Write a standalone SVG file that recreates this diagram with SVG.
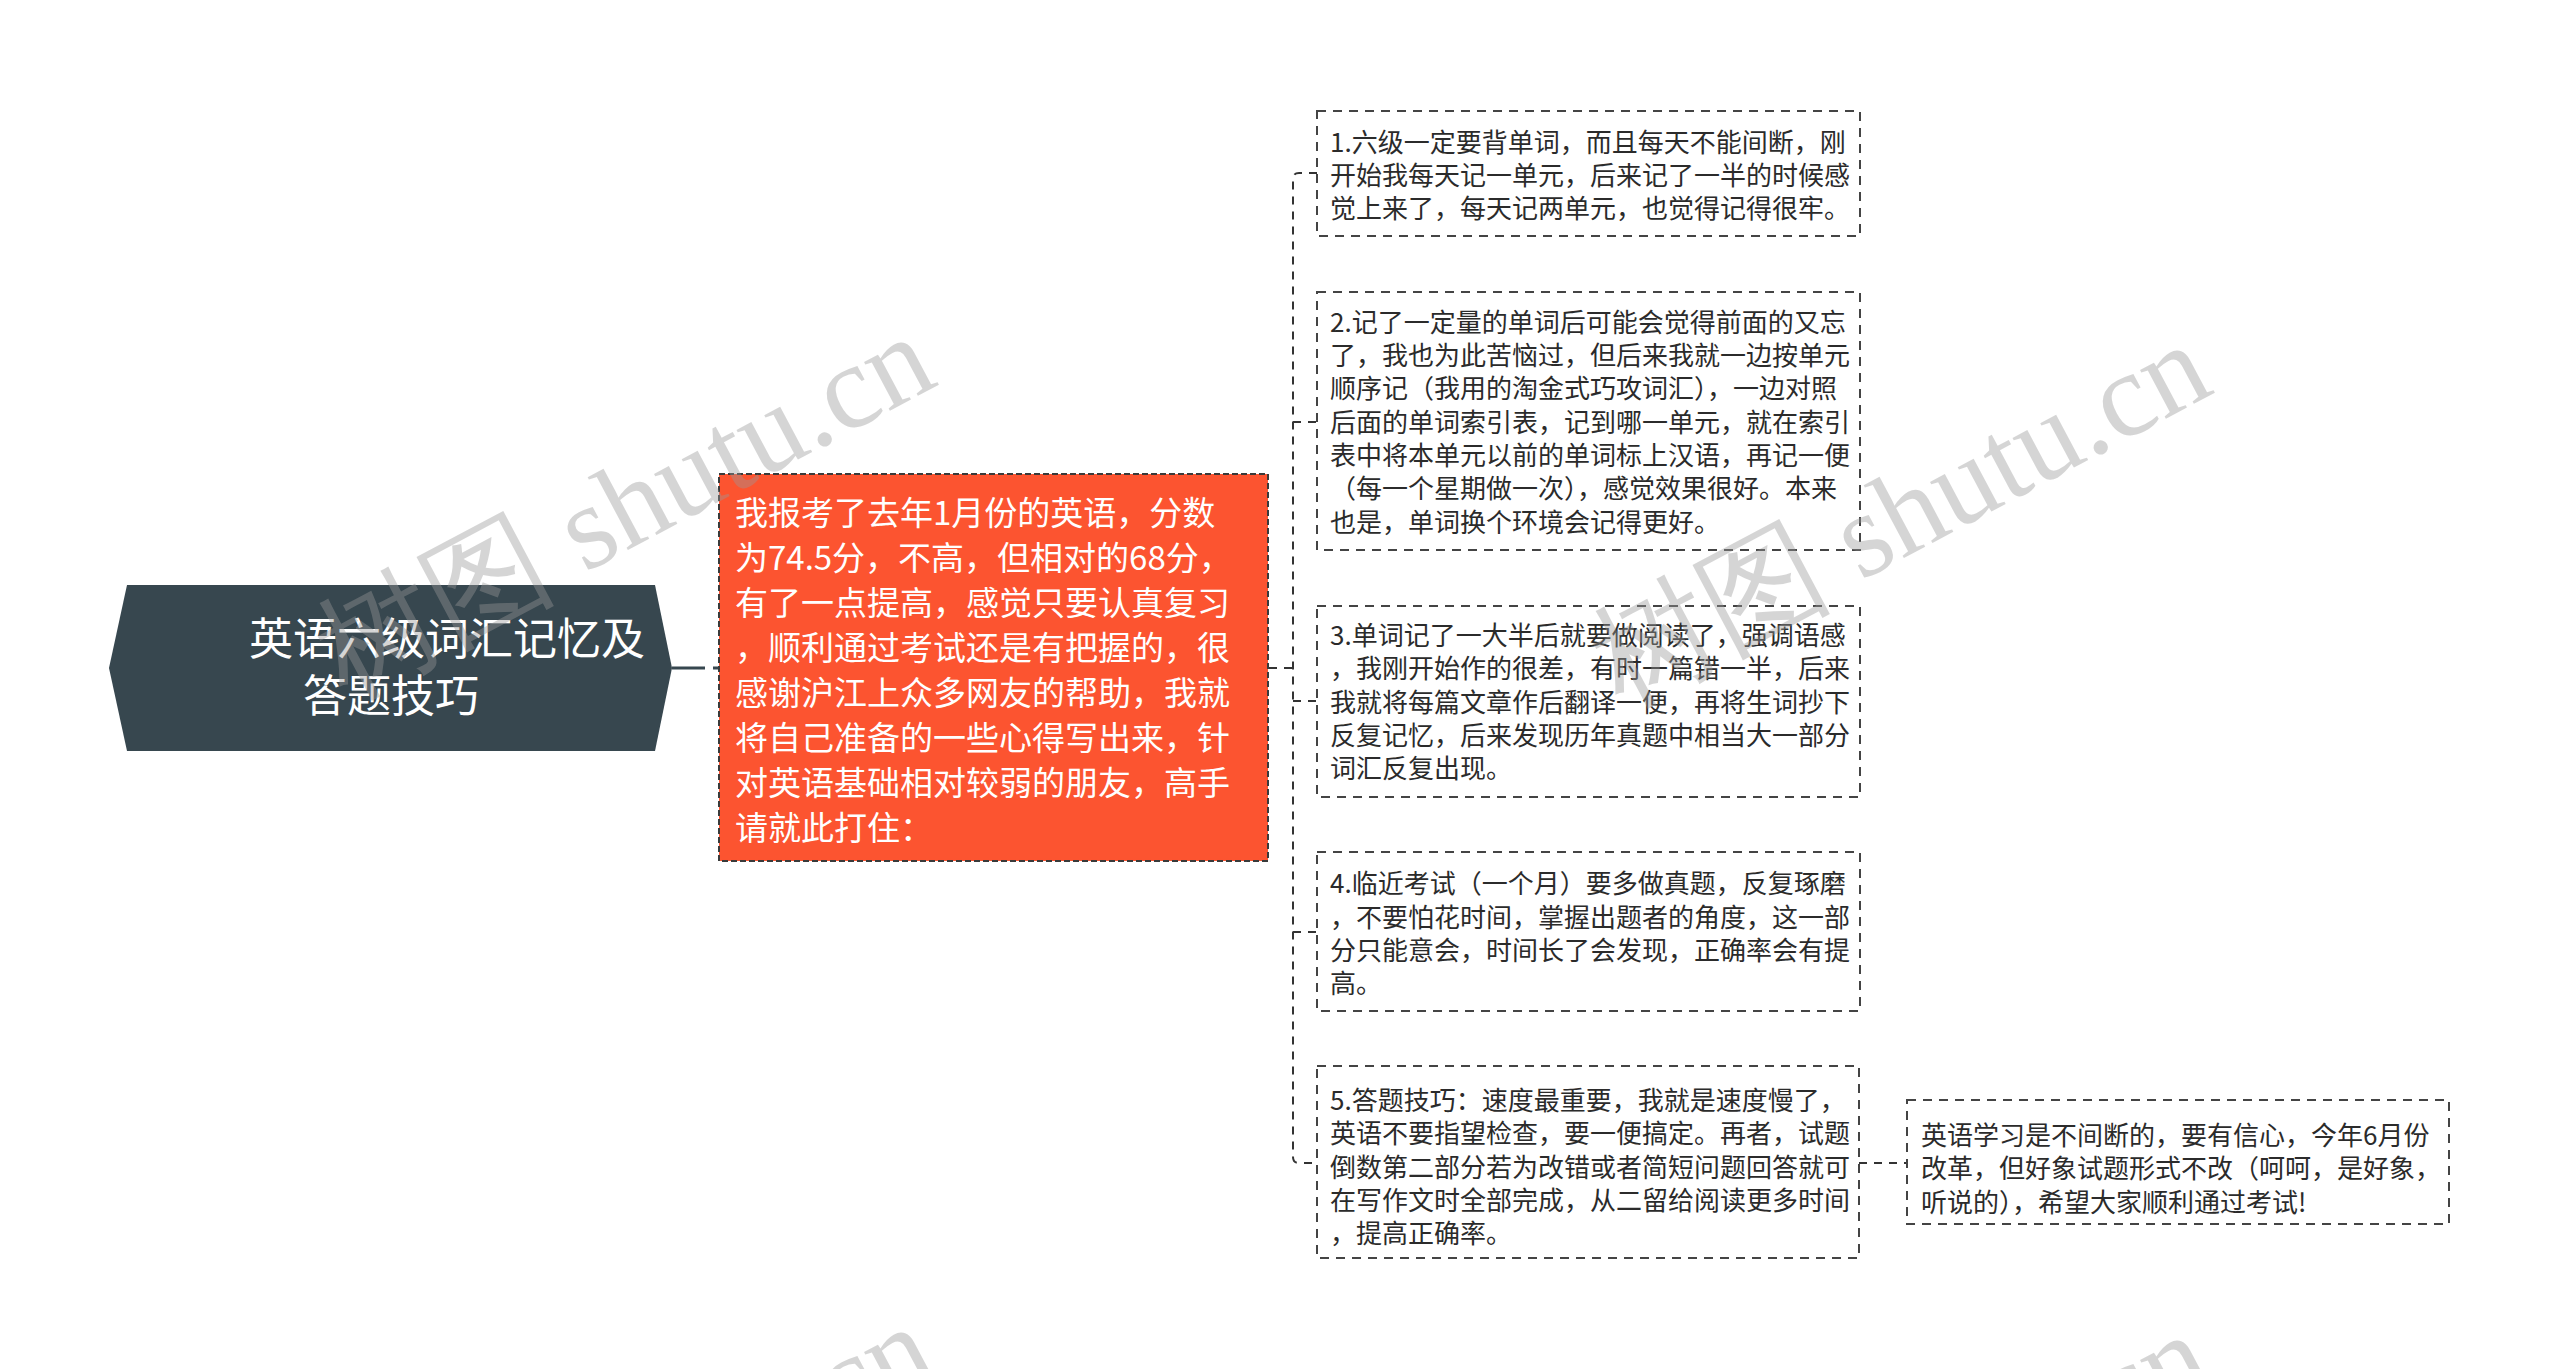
<svg xmlns="http://www.w3.org/2000/svg" width="2560" height="1369" viewBox="0 0 2560 1369">
<style>
.cjk{font-family:"Noto Sans CJK SC","Noto Sans",sans-serif}
.leaf rect{fill:#ffffff;stroke:#444444;stroke-width:2;stroke-dasharray:9 7}
.leaf text{font-size:26px;fill:#2b2b2b}
.conn{fill:none;stroke:#333333;stroke-width:2;stroke-dasharray:8 7}
.wm{font-family:"Liberation Serif",serif;font-size:120px;fill:#999999;opacity:0.4}
</style>
<rect x="0" y="0" width="2560" height="1369" fill="#ffffff"/>
<g id="connectors">
<path d="M672 668 H719" fill="none" stroke="#37474F" stroke-width="3" stroke-dasharray="33 8"/>
<path class="conn" d="M1269 668 H1293"/>
<path class="conn" d="M1317 173 H1299 Q1293 173 1293 179 V1157 Q1293 1163 1299 1163 H1317"/>
<path class="conn" d="M1293 422 H1317"/>
<path class="conn" d="M1293 701 H1317"/>
<path class="conn" d="M1293 932 H1317"/>
<path class="conn" d="M1859 1163 H1907"/>
</g>
<g id="root" class="cjk">
<polygon points="127,585 655,585 672,668 655,751 127,751 109,668" fill="#37474F"/>
<text font-size="44" fill="#ffffff"><tspan x="249" y="655">英语六级词汇记忆及</tspan><tspan x="303" y="712">答题技巧</tspan></text>
</g>
<g id="intro" class="cjk">
<rect x="719" y="474" width="549" height="387" fill="#FC5430" stroke="#3a3a3a" stroke-width="2" stroke-dasharray="6 3"/>
<text font-size="33" fill="#ffffff">
<tspan x="735" y="525">我报考了去年1月份的英语，分数</tspan>
<tspan x="735" y="570">为74.5分，不高，但相对的68分，</tspan>
<tspan x="735" y="615">有了一点提高，感觉只要认真复习</tspan>
<tspan x="735" y="660">，顺利通过考试还是有把握的，很</tspan>
<tspan x="735" y="705">感谢沪江上众多网友的帮助，我就</tspan>
<tspan x="735" y="750">将自己准备的一些心得写出来，针</tspan>
<tspan x="735" y="795">对英语基础相对较弱的朋友，高手</tspan>
<tspan x="735" y="840">请就此打住：</tspan>
</text>
</g>
<g id="tip1" class="leaf cjk">
<rect x="1317" y="111" width="543" height="125"/>
<text><tspan x="1330" y="151.5">1.六级一定要背单词，而且每天不能间断，刚</tspan><tspan x="1330" y="185">开始我每天记一单元，后来记了一半的时候感</tspan><tspan x="1330" y="218">觉上来了，每天记两单元，也觉得记得很牢。</tspan></text>
</g>
<g id="tip2" class="leaf cjk">
<rect x="1317" y="292" width="543" height="258"/>
<text><tspan x="1330" y="331.5">2.记了一定量的单词后可能会觉得前面的又忘</tspan><tspan x="1330" y="365">了，我也为此苦恼过，但后来我就一边按单元</tspan><tspan x="1330" y="398.3">顺序记（我用的淘金式巧攻词汇），一边对照</tspan><tspan x="1330" y="431.7">后面的单词索引表，记到哪一单元，就在索引</tspan><tspan x="1330" y="465">表中将本单元以前的单词标上汉语，再记一便</tspan><tspan x="1330" y="498.3">（每一个星期做一次），感觉效果很好。本来</tspan><tspan x="1330" y="531.7">也是，单词换个环境会记得更好。</tspan></text>
</g>
<g id="tip3" class="leaf cjk">
<rect x="1317" y="606" width="543" height="191"/>
<text><tspan x="1330" y="645">3.单词记了一大半后就要做阅读了，强调语感</tspan><tspan x="1330" y="678.3">，我刚开始作的很差，有时一篇错一半，后来</tspan><tspan x="1330" y="711.7">我就将每篇文章作后翻译一便，再将生词抄下</tspan><tspan x="1330" y="745">反复记忆，后来发现历年真题中相当大一部分</tspan><tspan x="1330" y="778.3">词汇反复出现。</tspan></text>
</g>
<g id="tip4" class="leaf cjk">
<rect x="1317" y="852" width="543" height="159"/>
<text><tspan x="1330" y="893.3">4.临近考试（一个月）要多做真题，反复琢磨</tspan><tspan x="1330" y="926.7">，不要怕花时间，掌握出题者的角度，这一部</tspan><tspan x="1330" y="960">分只能意会，时间长了会发现，正确率会有提</tspan><tspan x="1330" y="993.3">高。</tspan></text>
</g>
<g id="tip5" class="leaf cjk">
<rect x="1317" y="1066" width="542" height="192"/>
<text><tspan x="1330" y="1110">5.答题技巧：速度最重要，我就是速度慢了，</tspan><tspan x="1330" y="1143.3">英语不要指望检查，要一便搞定。再者，试题</tspan><tspan x="1330" y="1176.7">倒数第二部分若为改错或者简短问题回答就可</tspan><tspan x="1330" y="1210">在写作文时全部完成，从二留给阅读更多时间</tspan><tspan x="1330" y="1243.3">，提高正确率。</tspan></text>
</g>
<g id="closing" class="leaf cjk">
<rect x="1907" y="1100" width="542" height="124"/>
<text><tspan x="1921" y="1145">英语学习是不间断的，要有信心，今年6月份</tspan><tspan x="1921" y="1178.3">改革，但好象试题形式不改（呵呵，是好象，</tspan><tspan x="1921" y="1211.7">听说的），希望大家顺利通过考试!</tspan></text>
</g>
<g id="watermark">
<text class="wm" transform="translate(346,700) rotate(-28)">树图 shutu.cn</text>
<text class="wm" transform="translate(1622,708) rotate(-28)">树图 shutu.cn</text>
<text class="wm" transform="translate(346,1690) rotate(-28)">树图 shutu.cn</text>
<text class="wm" transform="translate(1622,1698) rotate(-28)">树图 shutu.cn</text>
</g>
</svg>
